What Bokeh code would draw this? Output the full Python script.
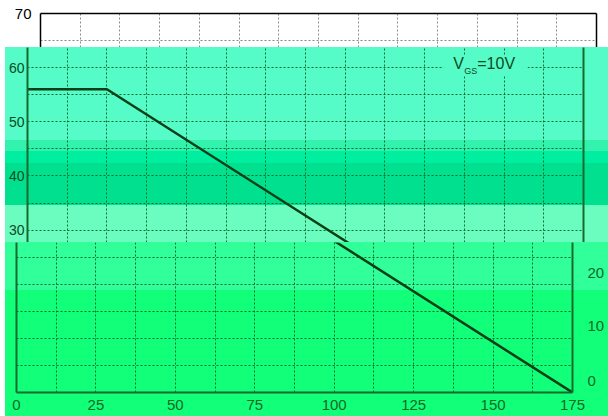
from bokeh.plotting import figure
from bokeh.models import Range1d, LinearAxis, FixedTicker, BoxAnnotation, Label, Grid
from bokeh.embed import file_html
from bokeh.resources import INLINE

# ---- data ----
tc = [0, 25, 175]            # case temperature
id_amp = [56, 56, 0]         # drain current
x_ticks = [0, 25, 50, 75, 100, 125, 150, 175]
x_minor = [12.5, 37.5, 62.5, 87.5, 112.5, 137.5, 162.5]
y_ticks = [0, 10, 20, 30, 40, 50, 60, 70]
y_minor = [5, 15, 25, 35, 45, 55, 65]
note = ["V", "GS", "=10V"]
wrap_labels = ["20", "10", "0"]

# ---- layout constants (page pixels) ----
W = 608
FW = 556
FRAME_TOP, FRAME_BOT = 13, 392
SY = (FRAME_BOT - FRAME_TOP) / 70.0
SX = FW / 175.0
CUT1, CUT2, END = 47, 242, 416
FONT = "Liberation Sans"


def val(py):
    return (FRAME_BOT - py) / SY


def gradient(top, bands):
    stops = []
    for y0, y1, c in bands:
        stops.append(f"{c} {y0 - top}px")
        stops.append(f"{c} {y1 - top}px")
    return ("linear-gradient(to right, #ffffff 0px, #ffffff 5px, rgba(255,255,255,0) 5px), "
            f"linear-gradient(to bottom, {', '.join(stops)})")


def make_fig(top, bot, frame_left, frame_top, frame_bot, ymin, ymax, bands=None):
    styles = {"background": gradient(top, bands)} if bands else {"background": "#ffffff"}
    p = figure(width=W, height=bot - top, x_range=Range1d(0, 175), y_range=Range1d(ymin, ymax),
               x_axis_location=None, y_axis_location=None,
               output_backend="svg", toolbar_location=None,
               min_border_left=frame_left, min_border_right=W - (frame_left + FW),
               min_border_top=frame_top - top, min_border_bottom=bot - frame_bot,
               background_fill_color=None, border_fill_color=None, outline_line_color=None,
               styles=styles)
    p.center = []
    return p


def add_grid(p, color, width=1):
    p.add_layout(Grid(dimension=0, ticker=FixedTicker(ticks=x_ticks, minor_ticks=x_minor),
                      grid_line_color=color, grid_line_dash="2 2", grid_line_width=width,
                      minor_grid_line_color=color, minor_grid_line_dash="2 2",
                      minor_grid_line_width=width))
    p.add_layout(Grid(dimension=1, ticker=FixedTicker(ticks=y_ticks, minor_ticks=y_minor),
                      grid_line_color=color, grid_line_dash="2 2", grid_line_width=width,
                      minor_grid_line_color=color, minor_grid_line_dash="2 2",
                      minor_grid_line_width=width))


def bare_axis(color, width):
    return LinearAxis(ticker=FixedTicker(ticks=[]), axis_line_color=color, axis_line_width=width,
                      major_tick_line_color=None, minor_tick_line_color=None,
                      major_label_text_font_size="0px", major_label_standoff=0,
                      major_tick_out=0, major_tick_in=0)


def label_axis(ticks, text_color, line_color, width, standoff, size):
    return LinearAxis(ticker=FixedTicker(ticks=ticks), axis_line_color=line_color,
                      axis_line_width=width,
                      major_tick_line_color=None, minor_tick_line_color=None,
                      major_tick_out=0, major_tick_in=0, major_label_standoff=standoff,
                      major_label_text_font_size=f"{size}px", major_label_text_font=FONT,
                      major_label_text_color=text_color)


LINE = "#0b3f16"
GREEN_AX = "#166a2c"
GREEN_GRID = "#0f6e2e"
TXT = "#0d4a22"
AQUA = "#55fcc8"

# ---- top fragment (white) ----
pa = make_fig(0, CUT1, 40, FRAME_TOP, CUT1, val(CUT1), 70)
add_grid(pa, "#8a8a8a")
pa.add_layout(label_axis(y_ticks, "black", "black", 1.5, 9, 15), "left")
pa.add_layout(bare_axis("black", 1.5), "right")
pa.add_layout(bare_axis("black", 1.5), "above")
pa.line(tc, id_amp, line_color="black", line_width=2)

# ---- middle fragment (aquamarine bands) ----
bands_b = [(CUT1, 140, AQUA), (140, 151, "#33f2ae"), (151, 163, "#00eea0"),
           (163, 205, "#00e08f"), (205, CUT2, "#6bfdc0")]
pb = make_fig(CUT1, CUT2, 27, CUT1, CUT2, val(CUT2), val(CUT1), bands_b)
add_grid(pb, GREEN_GRID)
pb.add_layout(label_axis(y_ticks, TXT, GREEN_AX, 2, 3, 14), "left")
pb.add_layout(bare_axis(GREEN_AX, 2), "right")
pb.line(tc, id_amp, line_color=LINE, line_width=2.5)
pb.add_layout(BoxAnnotation(left=130.9, right=157.4, top=val(55), bottom=val(75),
                            fill_color=AQUA, fill_alpha=1, line_color=None))
pb.add_layout(Label(x=134, y=val(62.5), text=note[0], text_font=FONT, text_font_size="16px",
                    text_color=TXT, text_baseline="middle"))
pb.add_layout(Label(x=134, y=val(62.5), x_offset=11, y_offset=-8, text=note[1], text_font=FONT,
                    text_font_size="9px", text_color=TXT, text_baseline="middle"))
pb.add_layout(Label(x=134, y=val(62.5), x_offset=24, text=note[2], text_font=FONT,
                    text_font_size="16px", text_color=TXT, text_baseline="middle"))

# ---- bottom fragment (green) ----
bands_c = [(CUT2, 290, "#30ff9a"), (290, END, "#12ff7a")]
pc = make_fig(CUT2, END, 16, CUT2, FRAME_BOT, 0, val(CUT2), bands_c)
add_grid(pc, GREEN_GRID)
pc.add_layout(label_axis(x_ticks, "#0f6a25", GREEN_AX, 2, 7, 15), "below")
pc.add_layout(bare_axis(GREEN_AX, 2), "left")
wrap_pos = [val(272), val(325), val(380)]
right_ax = label_axis(wrap_pos, "#0f6a25", GREEN_AX, 2, 15, 15)
right_ax.major_label_overrides = {v: t for v, t in zip(wrap_pos, wrap_labels)}
pc.add_layout(right_ax, "right")
pc.line(tc, id_amp, line_color=LINE, line_width=2.5)

open("out.html", "w").write(file_html([pa, pb, pc], INLINE))
